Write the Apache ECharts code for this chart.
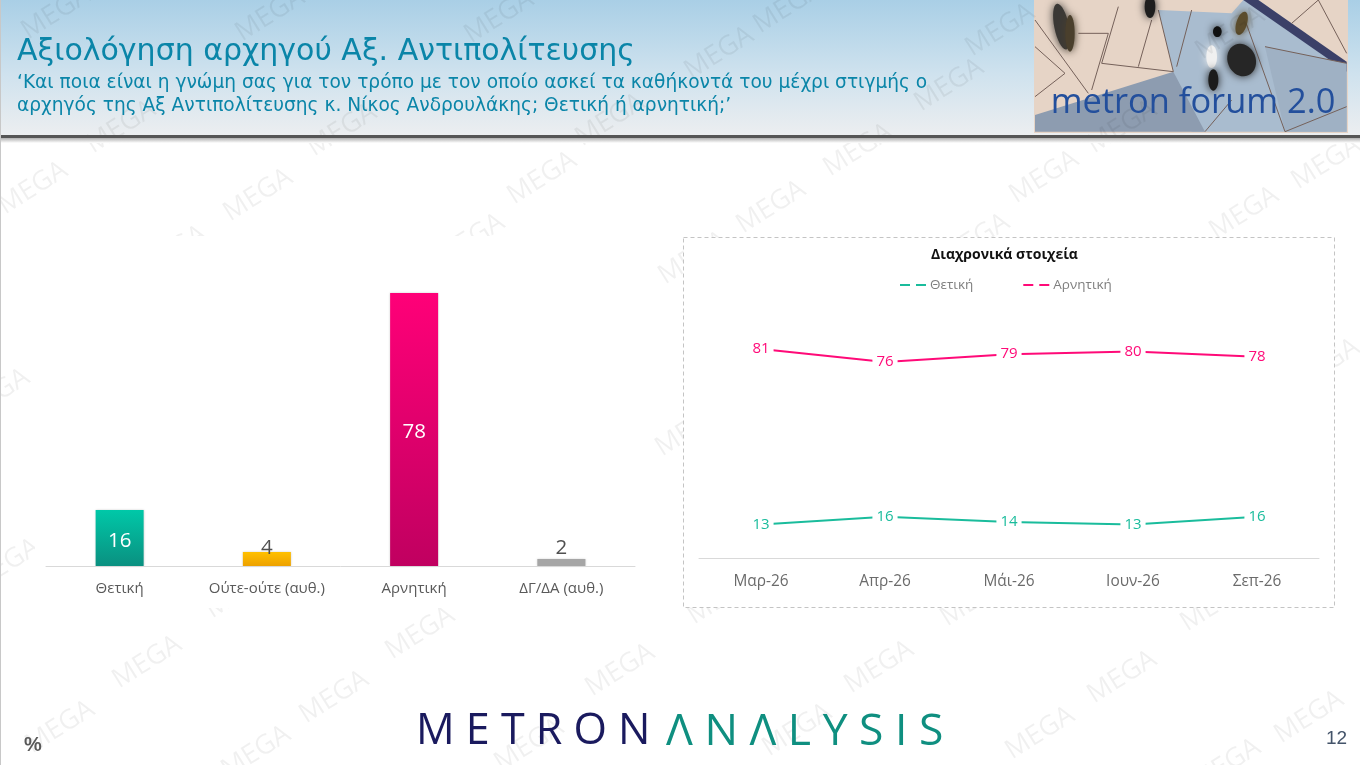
<!DOCTYPE html>
<html>
<head>
<meta charset="utf-8">
<style>html,body{margin:0;padding:0;background:#fff}#chart{width:1360px;height:765px}</style>
<script src="https://cdn.jsdelivr.net/npm/echarts@6/dist/echarts.min.js"></script>
</head>
<body>
<div id="chart"></div>
<script>
// bar chart, left
const barCategories = ['Θετική', 'Ούτε-ούτε (αυθ.)', 'Αρνητική', 'ΔΓ/ΔΑ (αυθ.)'];
const barValues = [16, 4, 78, 2];
// line chart, right
const months = ['Μαρ-26', 'Απρ-26', 'Μάι-26', 'Ιουν-26', 'Σεπ-26'];
const positive = [13, 16, 14, 13, 16];
const negative = [81, 76, 79, 80, 78];

const FONT = '"Open Sans", sans-serif';
const HEAD_FONT = '"DejaVu Sans", sans-serif';
const TEAL = '#1abc9c', PINK = '#ff0a78', HEAD = '#0a85a8';

const vgrad = (a, b) => new echarts.graphic.LinearGradient(0, 0, 0, 1, [{ offset: 0, color: a }, { offset: 1, color: b }]);
const barColors = [vgrad('#00c8a8', '#0a9080'), vgrad('#ffc000', '#eda100'), vgrad('#ff0078', '#c00060'), '#a6a6a6'];
// label colour and place differ: inside the two big bars, above the small ones
const barLabels = [
  { position: 'inside', color: '#fff', offset: [0, 3] },
  { position: 'top', color: '#505050', distance: -7 },
  { position: 'inside', color: '#fff', offset: [0, 3] },
  { position: 'top', color: '#505050', distance: 0 }
];

// watermark, centres
const marks = [
  [33,188],[258,195],[542,178],[771,207],[1044,177],[1244,213],[1326,163],
  [121,127],[342,130],[610,120],[858,150],[949,85],[1122,127],[719,53],[1000,30],[270,15],[788,7],[1230,33],[56,13],[499,17],
  [172,252],[470,240],[693,258],[975,240],[-5,395],[1325,365],[690,430],[5,565],
  [240,592],[722,598],[975,600],[1215,605],
  [147,662],[420,633],[334,697],[620,670],[879,667],[1122,677],
  [60,727],[256,752],[529,745],[797,730],[1040,733],[1309,717],[1226,765]
];

// plain facets standing in for the header photo
const photoAt = (x, y) => [1025 + x / 3, y / 3];
const facet = (pts, fill) => ({ type: 'polygon', z: 0, shape: { points: pts.map(p => photoAt(p[0], p[1])) }, style: { fill } });
const seam = pts => ({ type: 'polyline', z: 0, shape: { points: pts.map(p => photoAt(p[0], p[1])) }, style: { stroke: '#75615a', lineWidth: 1, fill: 'none' } });
const blob = (x, y, rx, ry, rot, fill) => ({ type: 'ellipse', z: 0, rotation: rot, originX: 1025 + x / 3, originY: y / 3, shape: { cx: 1025 + x / 3, cy: y / 3, rx: rx / 3, ry: ry / 3 }, style: { fill, shadowBlur: 9, shadowColor: fill } });
const photo = [
  { type: 'rect', z: 0, shape: { x: 1034, y: 0, width: 314, height: 133 }, style: { fill: '#e6d4c6' } },
  facet([[400, 30], [620, 40], [655, 0], [700, 0], [965, 190], [965, 395], [500, 395], [445, 215]], '#a9bccf'),
  facet([[30, 345], [445, 215], [540, 395], [30, 395]], '#8d9cb0'),
  facet([[655, 0], [700, 0], [965, 185], [965, 215]], '#3b4068'),
  facet([[720, 140], [965, 190], [965, 395], [780, 395]], '#9fb1c4'),
  seam([[30, 60], [190, 280]]), seam([[30, 140], [120, 220], [30, 290]]), seam([[160, 100], [250, 100], [200, 270]]),
  seam([[280, 20], [230, 190], [445, 215]]), seam([[380, 60], [340, 200]]), seam([[400, 30], [445, 215]]),
  seam([[500, 30], [455, 200]]), seam([[660, 60], [780, 395]]), seam([[720, 140], [965, 190]]),
  seam([[780, 395], [965, 320]]), seam([[880, 0], [965, 160]]), seam([[800, 70], [880, 0]]), seam([[540, 395], [620, 300]]),
  blob(110, 80, 22, 70, 0.2, '#3a3835'), blob(135, 100, 14, 55, 0, '#4a3f2c'), blob(375, 20, 16, 34, 0, '#1e1e1e'),
  blob(650, 180, 42, 50, 0.4, '#262626'), blob(577, 95, 13, 16, 0, '#111'), blob(650, 70, 16, 36, -0.3, '#5b4c2c'),
  blob(560, 170, 16, 34, 0, '#f0f0f0'), blob(565, 240, 15, 32, 0, '#1c1c1c')
];

const graphic = [
  // header band
  { type: 'rect', z: 0, shape: { x: 0, y: 0, width: 1360, height: 135 },
    style: { fill: new echarts.graphic.LinearGradient(0, 0, 0, 1, [{ offset: 0, color: '#a9cfe6' }, { offset: 0.55, color: '#cfe2ee' }, { offset: 1, color: '#eceef0' }]) } },
  { type: 'rect', z: 1, shape: { x: 0, y: 135, width: 1360, height: 3 }, style: { fill: '#555' } },
  { type: 'rect', z: 1, shape: { x: 0, y: 138, width: 1360, height: 5 }, style: { fill: vgrad('#b0b0b0', '#ffffff') } },
  { type: 'rect', z: 1, shape: { x: 0, y: 0, width: 1, height: 765 }, style: { fill: '#c8c8c8' } },
  ...photo
];
marks.forEach(([x, y]) => graphic.push({
  type: 'text', z: 0.5, x, y, rotation: 0.56, silent: true,
  style: { text: 'MEGA', font: '27px "Open Sans"', fill: 'rgba(0,0,0,0.06)', textAlign: 'center', textVerticalAlign: 'middle' }
}));
graphic.push(
  // the plot areas hide the watermark
  { type: 'rect', z: 1, shape: { x: 35, y: 236, width: 615, height: 372 }, style: { fill: '#fff' } },
  { type: 'rect', z: 1, shape: { x: 683.5, y: 237.5, width: 651, height: 370 }, style: { fill: '#fff', stroke: '#c4c4c4', lineDash: [4, 3], lineWidth: 1 } },
  // header texts
  { type: 'text', z: 5, x: 17, y: 52, style: { text: 'Αξιολόγηση αρχηγού Αξ. Αντιπολίτευσης', font: '30px ' + HEAD_FONT, fill: HEAD, textVerticalAlign: 'middle' } },
  { type: 'text', z: 5, x: 17, y: 83, style: { text: '‘Και ποια είναι η γνώμη σας για τον τρόπο με τον οποίο ασκεί τα καθήκοντά του μέχρι στιγμής ο', font: '18.6px ' + HEAD_FONT, fill: HEAD, textVerticalAlign: 'middle' } },
  { type: 'text', z: 5, x: 17, y: 106, style: { text: 'αρχηγός της Αξ Αντιπολίτευσης κ. Νίκος Ανδρουλάκης; Θετική ή αρνητική;’', font: '18.6px ' + HEAD_FONT, fill: HEAD, textVerticalAlign: 'middle' } },
  { type: 'text', z: 6, x: 1193, y: 103, style: { text: 'metron forum 2.0', font: '34.4px "Open Sans"', fill: '#234f9c', textAlign: 'center', textVerticalAlign: 'middle', shadowBlur: 6, shadowColor: '#fff' } },
  // footer
  { type: 'text', z: 5, x: 416, y: 732, style: { text: 'M E T R O N', font: '43px "Open Sans"', fill: '#1a1a5e', textVerticalAlign: 'middle' } },
  { type: 'text', z: 5, x: 666, y: 732, style: { text: 'Λ N Λ L Y S I S', font: '44.5px "Open Sans"', fill: '#0f8f80', textVerticalAlign: 'middle' } },
  { type: 'text', z: 5, x: 24, y: 745, style: { text: '%', font: 'bold 20px "Liberation Sans"', fill: '#595959', textVerticalAlign: 'middle' } },
  { type: 'text', z: 5, x: 1326, y: 739, style: { text: '12', font: '19px "Liberation Sans"', fill: '#44546a', textVerticalAlign: 'middle' } }
);

const lineLabel = color => ({ show: true, position: 'inside', fontFamily: FONT, fontSize: 15, color, backgroundColor: '#fff', padding: [1, 4] });

const chart = echarts.init(document.getElementById('chart'));
chart.setOption({
  animation: false,
  backgroundColor: '#fff',
  title: {
    text: 'Διαχρονικά στοιχεία', left: 999.5, top: 243, textAlign: 'center',
    textStyle: { fontFamily: FONT, fontSize: 14, fontWeight: 'bold', color: '#111' }
  },
  legend: {
    left: 894, top: 273, itemGap: 49, itemWidth: 27, itemHeight: 10,
    itemStyle: { opacity: 0 },
    lineStyle: { type: [10, 6], width: 2 },
    data: ['Θετική', 'Αρνητική'],
    textStyle: { fontFamily: FONT, fontSize: 13.5, color: '#7f7f7f', padding: [0, 0, 0, -2] }
  },
  grid: [
    { left: 46, width: 589, top: 286, height: 280 },
    { left: 699, width: 620, top: 300, height: 258 }
  ],
  xAxis: [
    { type: 'category', gridIndex: 0, z: 3, data: barCategories, axisTick: { show: false },
      axisLine: { lineStyle: { color: '#d9d9d9' } },
      axisLabel: { interval: 0, fontFamily: FONT, fontSize: 15, color: '#595959', margin: 15 } },
    { type: 'category', gridIndex: 1, z: 3, data: months, axisTick: { show: false },
      axisLine: { lineStyle: { color: '#d9d9d9' } },
      axisLabel: { interval: 0, fontFamily: FONT, fontSize: 15.4, color: '#6b6b6b', margin: 16 } }
  ],
  yAxis: [
    { type: 'value', gridIndex: 0, min: 0, max: 80, show: false },
    { type: 'value', gridIndex: 1, min: 0, max: 100, show: false }
  ],
  graphic,
  series: [
    { type: 'bar', name: 'bars', xAxisIndex: 0, yAxisIndex: 0, barWidth: 48,
      data: barValues.map((value, i) => ({
        value,
        itemStyle: { color: barColors[i], shadowBlur: 2, shadowColor: 'rgba(0,0,0,0.2)' },
        label: barLabels[i]
      })),
      label: { show: true, fontFamily: FONT, fontSize: 20.5 } },
    { type: 'line', name: 'Θετική', xAxisIndex: 1, yAxisIndex: 1, data: positive, symbol: 'circle', symbolSize: 1,
      lineStyle: { color: TEAL, width: 2 }, itemStyle: { color: TEAL }, label: lineLabel(TEAL) },
    { type: 'line', name: 'Αρνητική', xAxisIndex: 1, yAxisIndex: 1, data: negative, symbol: 'circle', symbolSize: 1,
      lineStyle: { color: PINK, width: 2 }, itemStyle: { color: PINK }, label: lineLabel(PINK) }
  ]
});
</script>
</body>
</html>
